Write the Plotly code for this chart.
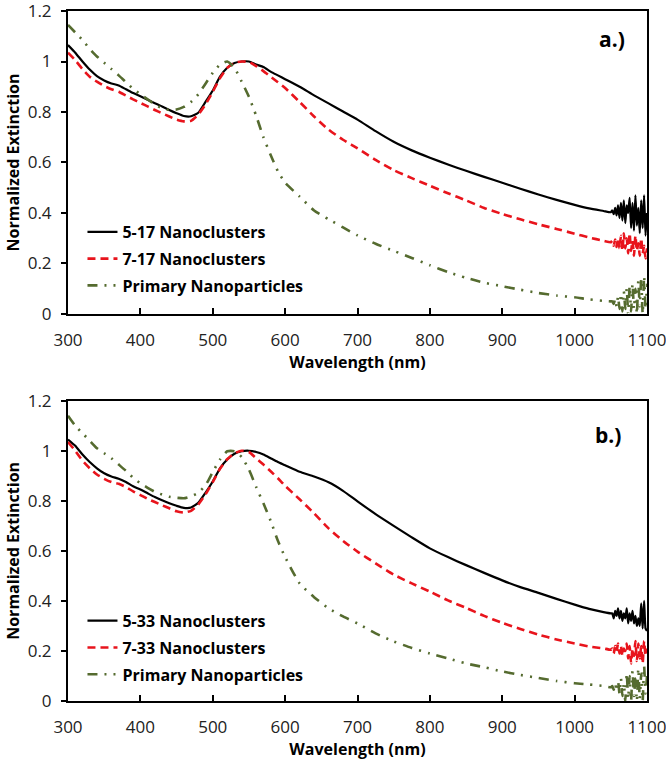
import plotly.graph_objects as go

# ---------------- data ----------------
wavelength = [300, 310, 320, 330, 340, 350, 360, 370, 380, 390,
              400, 410, 420, 430, 440, 450, 460, 470, 480, 490,
              500, 510, 520, 530, 540, 550, 560, 570, 580, 590,
              600, 620, 640, 660, 680, 700, 725, 750, 775, 800,
              825, 850, 875, 900, 925, 950, 975, 1000, 1020, 1040,
              1050,
              1052, 1054, 1056, 1058, 1060, 1062, 1064, 1066, 1068, 1070,
              1072, 1074, 1076, 1078, 1080, 1082, 1084, 1086, 1088, 1090,
              1092, 1094, 1096, 1098, 1100]

# panel a.)
nc_5_17 = [1.065, 1.035, 1.000, 0.968, 0.942, 0.925, 0.913, 0.905, 0.890, 0.875,
           0.862, 0.848, 0.835, 0.822, 0.808, 0.795, 0.784, 0.783, 0.797, 0.840,
           0.885, 0.940, 0.975, 0.994, 1.000, 1.000, 0.988, 0.978, 0.960, 0.945,
           0.930, 0.900, 0.866, 0.834, 0.802, 0.770, 0.724, 0.682, 0.648, 0.619,
           0.592, 0.567, 0.543, 0.520, 0.496, 0.473, 0.452, 0.432, 0.418, 0.408,
           0.403,
           0.410, 0.395, 0.420, 0.390, 0.430, 0.380, 0.440, 0.370, 0.450, 0.360,
           0.430, 0.400, 0.460, 0.340, 0.440, 0.330, 0.470, 0.350, 0.420, 0.320,
           0.450, 0.340, 0.470, 0.310, 0.400]
nc_7_17 = [1.035, 1.005, 0.970, 0.940, 0.920, 0.903, 0.890, 0.880, 0.865, 0.850,
           0.836, 0.822, 0.808, 0.795, 0.782, 0.770, 0.763, 0.765, 0.790, 0.830,
           0.880, 0.934, 0.975, 0.995, 1.000, 0.998, 0.982, 0.962, 0.940, 0.918,
           0.895, 0.840, 0.782, 0.730, 0.690, 0.656, 0.610, 0.570, 0.538, 0.508,
           0.478, 0.450, 0.420, 0.396, 0.375, 0.355, 0.337, 0.318, 0.303, 0.290,
           0.284,
           0.290, 0.270, 0.295, 0.265, 0.300, 0.260, 0.310, 0.250, 0.320, 0.260,
           0.300, 0.240, 0.320, 0.250, 0.290, 0.230, 0.310, 0.250, 0.280, 0.230,
           0.300, 0.240, 0.270, 0.220, 0.260]
primary_a = [1.145, 1.115, 1.085, 1.050, 1.020, 0.995, 0.970, 0.945, 0.918, 0.892,
             0.870, 0.850, 0.830, 0.815, 0.808, 0.810, 0.820, 0.840, 0.870, 0.912,
             0.955, 0.988, 1.000, 0.975, 0.920, 0.860, 0.785, 0.700, 0.630, 0.565,
             0.520, 0.465, 0.410, 0.375, 0.343, 0.311, 0.278, 0.250, 0.222, 0.193,
             0.166, 0.143, 0.124, 0.110, 0.096, 0.083, 0.073, 0.066, 0.058, 0.052,
             0.050,
             0.050, 0.040, 0.060, 0.030, 0.070, 0.020, 0.080, 0.010, 0.090, 0.020,
             0.100, 0.000, 0.110, 0.010, 0.120, 0.020, 0.100, 0.000, 0.130, 0.030,
             0.140, 0.000, 0.150, 0.020, 0.120]

# panel b.)
nc_5_33 = [1.045, 1.020, 0.985, 0.955, 0.930, 0.910, 0.897, 0.888, 0.875, 0.858,
           0.845, 0.830, 0.815, 0.802, 0.790, 0.780, 0.772, 0.773, 0.792, 0.832,
           0.877, 0.930, 0.965, 0.988, 0.998, 1.000, 0.995, 0.985, 0.970, 0.955,
           0.942, 0.916, 0.897, 0.874, 0.840, 0.798, 0.747, 0.700, 0.654, 0.610,
           0.575, 0.543, 0.512, 0.482, 0.455, 0.432, 0.408, 0.385, 0.368, 0.355,
           0.350,
           0.350, 0.330, 0.360, 0.340, 0.370, 0.330, 0.360, 0.320, 0.350, 0.330,
           0.370, 0.310, 0.350, 0.320, 0.360, 0.310, 0.340, 0.300, 0.330, 0.300,
           0.390, 0.290, 0.400, 0.290, 0.280]
nc_7_33 = [1.035, 1.000, 0.960, 0.930, 0.905, 0.888, 0.875, 0.868, 0.855, 0.838,
           0.823, 0.808, 0.795, 0.782, 0.770, 0.758, 0.753, 0.760, 0.785, 0.826,
           0.875, 0.928, 0.966, 0.990, 1.000, 0.995, 0.970, 0.945, 0.918, 0.890,
           0.860, 0.806, 0.750, 0.690, 0.640, 0.597, 0.550, 0.505, 0.470, 0.437,
           0.402, 0.372, 0.340, 0.312, 0.288, 0.265, 0.246, 0.230, 0.218, 0.210,
           0.205,
           0.210, 0.190, 0.220, 0.200, 0.230, 0.190, 0.220, 0.180, 0.210, 0.200,
           0.230, 0.170, 0.220, 0.150, 0.210, 0.180, 0.240, 0.160, 0.230, 0.170,
           0.220, 0.150, 0.240, 0.180, 0.210]
primary_b = [1.140, 1.100, 1.070, 1.040, 1.010, 0.990, 0.970, 0.945, 0.920, 0.892,
             0.870, 0.852, 0.836, 0.825, 0.816, 0.812, 0.810, 0.818, 0.832, 0.862,
             0.915, 0.965, 0.998, 0.998, 0.975, 0.925, 0.855, 0.790, 0.720, 0.640,
             0.575, 0.470, 0.415, 0.370, 0.338, 0.310, 0.270, 0.238, 0.212, 0.190,
             0.170, 0.150, 0.135, 0.118, 0.104, 0.092, 0.080, 0.071, 0.066, 0.060,
             0.055,
             0.060, 0.045, 0.070, 0.040, 0.080, 0.030, 0.090, 0.020, 0.070, 0.000,
             0.110, 0.010, 0.100, 0.000, 0.120, 0.020, 0.090, 0.000, 0.130, 0.010,
             0.110, 0.000, 0.140, 0.030, 0.100]

x_ticks = [300, 400, 500, 600, 700, 800, 900, 1000, 1100]
y_ticks = [0, 0.2, 0.4, 0.6, 0.8, 1.0, 1.2]

names_a = ["5-17 Nanoclusters", "7-17 Nanoclusters", "Primary Nanoparticles"]
names_b = ["5-33 Nanoclusters", "7-33 Nanoclusters", "Primary Nanoparticles"]
panel_labels = ["a.)", "b.)"]

for s in (nc_5_17, nc_7_17, primary_a, nc_5_33, nc_7_33, primary_b):
    assert len(s) == len(wavelength), len(s)

# ---------------- styling ----------------
FONT = "Open Sans"
styles = [
    dict(color="black", width=2.2, dash="solid", shape="spline", smoothing=0.5),
    dict(color="#E8141C", width=2.6, dash="8px,5px", shape="spline", smoothing=0.5),
    dict(color="#556B2F", width=2.6, dash="10px,7px,2px,7px,2px,7px", shape="spline", smoothing=0.5),
]

fig = go.Figure()
panels = [
    (names_a, [nc_5_17, nc_7_17, primary_a], "x", "y", "legend"),
    (names_b, [nc_5_33, nc_7_33, primary_b], "x2", "y2", "legend2"),
]
for names, series, xa, ya, lg in panels:
    for i, (nm, vals) in enumerate(zip(names, series)):
        fig.add_trace(go.Scatter(
            x=wavelength, y=vals, name=nm, mode="lines",
            line=styles[i], xaxis=xa, yaxis=ya, legend=lg,
            legendgroup=lg + str(i), cliponaxis=True,
        ))

axis_common_x = dict(
    range=[300, 1100], tickvals=x_ticks, ticks="inside", ticklen=6,
    tickwidth=1.5, tickcolor="black", showline=True, mirror=True,
    linecolor="black", linewidth=2, showgrid=False, zeroline=False,
    tickfont=dict(family=FONT, size=17, color="#222"),
    ticklabelstandoff=10, automargin=False, ticklabeloverflow="allow",
)
axis_common_y = dict(
    range=[0, 1.2], tickvals=y_ticks, ticks="outside", ticklen=5,
    tickwidth=1.5, tickcolor="black", showline=True, mirror=True,
    linecolor="black", linewidth=2, showgrid=False, zeroline=False,
    tickfont=dict(family=FONT, size=17, color="#222"),
    ticklabelstandoff=6, automargin=False, ticklabeloverflow="allow",
)
title_font = dict(family=FONT, size=16, color="black", weight="bold")

fig.update_layout(
    width=666, height=760,
    margin=dict(l=68, r=19, t=11, b=59, autoexpand=False),
    paper_bgcolor="white", plot_bgcolor="white",
    xaxis=dict(axis_common_x, domain=[0, 1], anchor="y",
               title=dict(text="Wavelength (nm)", font=title_font, standoff=0)),
    yaxis=dict(axis_common_y, domain=[0.5609, 1], anchor="x",
               title=dict(text="Normalized Extinction", font=title_font, standoff=4)),
    xaxis2=dict(axis_common_x, domain=[0, 1], anchor="y2",
                title=dict(text="Wavelength (nm)", font=title_font, standoff=0)),
    yaxis2=dict(axis_common_y, domain=[0, 0.4352], anchor="x2",
                title=dict(text="Normalized Extinction", font=title_font, standoff=4)),
    legend=dict(x=0.025, y=0.7045, xanchor="left", yanchor="top",
                bgcolor="rgba(0,0,0,0)", tracegroupgap=3, itemwidth=30,
                font=dict(family=FONT, size=16, color="black", weight="bold")),
    legend2=dict(x=0.025, y=0.1409, xanchor="left", yanchor="top",
                 bgcolor="rgba(0,0,0,0)", tracegroupgap=3, itemwidth=30,
                 font=dict(family=FONT, size=16, color="black", weight="bold")),
    showlegend=True,
    annotations=[
        dict(text=panel_labels[0], xref="x domain", yref="y domain", x=0.94, y=0.906,
             xanchor="center", yanchor="middle", showarrow=False,
             font=dict(family=FONT, size=21, color="black", weight="bold")),
        dict(text=panel_labels[1], xref="x2 domain", yref="y2 domain", x=0.932, y=0.886,
             xanchor="center", yanchor="middle", showarrow=False,
             font=dict(family=FONT, size=21, color="black", weight="bold")),
    ],
)

fig.write_html(
    "out.html",
    config={"displayModeBar": False},
    post_script="document.body.style.margin='0px'; document.body.style.overflow='hidden';",
)
